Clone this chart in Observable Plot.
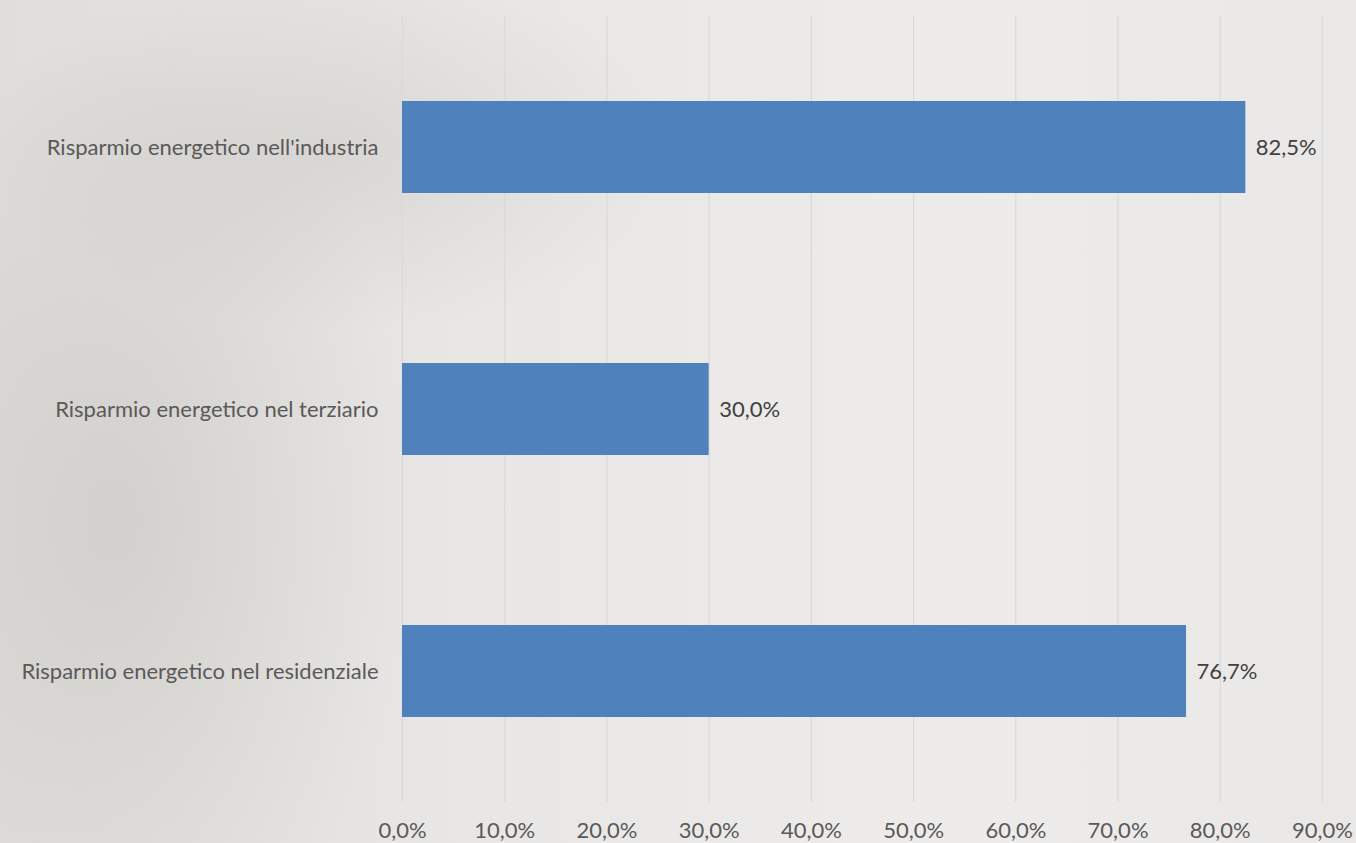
<!DOCTYPE html>
<html>
<head>
<meta charset="utf-8">
<script src="https://cdn.jsdelivr.net/npm/d3@7"></script>
<script src="https://cdn.jsdelivr.net/npm/@observablehq/plot@0.6"></script>
<style>
  html, body { margin: 0; padding: 0; }
  body {
    width: 1356px; height: 843px; overflow: hidden;
    background:
      radial-gradient(ellipse 420px 700px at 120px 520px, rgba(170,166,162,0.28), rgba(170,166,162,0) 70%),
      radial-gradient(ellipse 500px 260px at 330px 150px, rgba(160,156,152,0.2), rgba(160,156,152,0) 70%),
      linear-gradient(90deg, #e0dedb 0%, #e9e7e5 35%, #eeecea 70%, #eae8e6 100%);
    font-family: Lato, "Open Sans", sans-serif;
  }
  #chart svg { display: block; background: transparent; }
</style>
</head>
<body>
<div id="chart"></div>
<script>
const categories = [
  "Risparmio energetico nell'industria",
  "Risparmio energetico nel terziario",
  "Risparmio energetico nel residenziale"
];
const values = [0.825, 0.300, 0.767];
const xTicks = [0, 0.1, 0.2, 0.3, 0.4, 0.5, 0.6, 0.7, 0.8, 0.9];

const it = d3.formatLocale({decimal: ",", thousands: ".", grouping: [3], currency: ["", " €"]});
const pct = it.format(".1%");

const data = categories.map((c, i) => ({category: c, value: values[i]}));

const chart = Plot.plot({
  width: 1356,
  height: 843,
  marginLeft: 402,
  marginRight: 34,
  marginTop: 16,
  marginBottom: 41,
  style: {fontFamily: "Lato, 'Open Sans', sans-serif", fontSize: "22px", color: "#595959", background: "transparent"},
  x: {domain: [0, 0.9], ticks: xTicks, tickFormat: pct, label: null, grid: false},
  y: {domain: categories, paddingInner: 0.65, paddingOuter: 0.325, label: null},
  marks: [
    Plot.ruleX(xTicks, {stroke: "#d9d9d9", strokeWidth: 1.2}),
    Plot.barX(data, {x: "value", y: "category", fill: "#4f81bd"}),
    Plot.text(data, {x: "value", y: "category", text: d => pct(d.value), textAnchor: "start", dx: 10, fill: "#404040", fontSize: 22}),
    Plot.axisX({ticks: xTicks, tickFormat: pct, tickSize: 0, tickPadding: 20, fill: "#595959", fontSize: 22, label: null}),
    Plot.axisY({tickSize: 0, tickPadding: 24, fill: "#595959", fontSize: 22, label: null})
  ]
});
document.getElementById("chart").appendChild(chart);
</script>
</body>
</html>
